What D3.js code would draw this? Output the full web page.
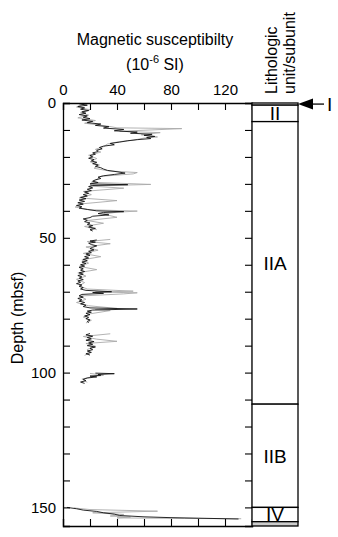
<!DOCTYPE html>
<html><head><meta charset="utf-8">
<script src="https://cdn.jsdelivr.net/npm/d3@7"></script>
<style>body{margin:0;background:#fff}svg{display:block}text{font-family:"Liberation Sans",Arial,sans-serif;fill:#000}</style>
</head><body>
<script>
// ---- data ----
const blackDepth = [0.3,0.8,1.3,1.8,2.3,2.8,3.3,3.8,4.3,4.8,5.3,5.8,6.3,6.8,7.3,7.8,8.3,8.8,9.3,9.8,10.3,10.8,11.2,11.6,12.0,12.4,12.8,13.2,13.6,14.0,14.5,15.0,15.5,16.0,16.5,17.0,17.5,18.0,18.5,19.0,19.5,20.0,20.5,21.0,21.5,22.0,22.5,23.0,23.5,24.0,24.5,25.0,25.5,26.0,26.5,27.0,27.5,28.0,28.5,29.0,29.5,30.0,30.3,30.6,31.0,31.5,32.0,32.5,33.0,33.5,34.0,34.5,35.0,35.5,36.0,36.5,37.0,37.5,38.0,38.5,39.0,39.5,40.0,40.3,40.6,41.0,41.5,42.0,42.5,43.0,43.5,44.0,44.5,45.0,45.5,46.0,46.5,47.0,47.5,null,50.8,51.2,51.6,52.0,52.5,53.0,53.5,54.0,54.5,55.0,55.5,56.0,56.5,57.0,57.5,58.0,58.5,59.0,59.5,60.0,60.5,61.0,61.5,62.0,62.5,63.0,63.5,64.0,64.5,65.0,65.5,66.0,66.5,67.0,67.5,68.0,68.5,69.0,69.5,70.0,70.3,70.6,71.0,71.5,72.0,72.5,73.0,73.5,74.0,74.5,75.0,75.5,76.0,76.4,76.8,77.2,77.6,78.0,78.5,79.0,79.5,80.0,80.5,81.0,81.5,null,85.5,86.0,86.5,87.0,87.5,88.0,88.5,89.0,89.5,90.0,90.5,91.0,91.5,92.0,92.5,93.0,93.5,null,100.2,100.4,100.7,101.0,101.3,101.6,102.0,102.5,103.0,103.5,104.0,null,150.0,150.5,151.0,151.5,152.0,152.5,153.0,153.5,153.8,154.0,154.2,154.3];
const blackValue = [12,18,11,16,13,19,14,17,12,18,15,20,14,22,18,28,24,34,30,45,38,55,50,66,60,68,62,65,55,48,42,35,38,30,27,29,25,26,22,24,20,22,19,23,21,25,22,26,24,28,30,33,40,46,38,30,26,28,24,22,26,20,48,22,19,22,18,21,16,19,15,18,13,17,12,16,11,15,10,14,12,18,25,45,30,26,34,22,20,15,18,16,20,18,22,19,24,20,22,null,25,20,24,19,21,25,22,20,23,19,21,17,20,16,19,15,18,14,17,13,16,12,15,13,16,12,15,11,14,12,15,11,13,10,14,12,15,13,17,36,22,30,14,12,15,11,14,12,16,13,17,15,20,55,22,18,21,17,20,16,19,17,20,18,19,null,20,17,22,18,21,17,23,19,22,18,24,20,22,18,21,17,20,null,24,38,26,28,20,25,18,15,17,13,16,null,3,10,15,25,30,38,42,60,80,100,120,130];
const grayDepth = [0.5,1.5,2.5,3.5,4.5,5.5,6.5,7.5,8.5,9.2,9.5,10.5,11.0,11.8,12.6,13.0,13.8,14.4,15.2,16.2,17.2,18.2,19.4,20.6,21.8,23.0,24.2,25.2,25.8,26.3,27.2,28.4,29.4,30.2,30.8,31.6,32.8,34.0,35.2,36.2,37.4,38.6,39.6,40.1,40.5,41.2,42.4,43.6,44.6,45.8,47.0,null,50.6,51.4,52.2,53.4,54.6,55.8,57.0,58.2,59.4,60.6,61.8,63.0,64.2,65.4,66.6,67.8,69.0,69.8,70.1,70.4,70.8,71.6,72.8,74.0,75.2,76.2,76.6,77.0,78.2,79.4,80.6,81.6,null,85.6,86.6,87.6,88.4,89.2,90.2,91.4,92.6,93.6,null,100.3,101.0,101.5,102.4,103.6,null,150.2,150.8,151.4,152.0,152.6,153.2,153.6,153.9,154.1,154.2];
const grayValue = [15,10,20,13,19,11,24,16,32,40,88,42,72,58,70,60,52,41,33,30,24,28,19,25,20,27,23,34,55,52,28,25,21,65,20,45,15,21,12,40,14,9,20,55,40,30,40,18,30,16,25,null,35,18,35,17,26,15,28,14,19,12,25,11,17,10,16,12,18,52,24,55,45,12,17,10,19,40,24,35,20,15,21,17,null,35,15,25,40,17,24,18,20,16,null,20,30,22,14,18,null,8,20,70,22,45,35,50,40,90,132];
const xTicks = [0,20,40,60,80,100,120,140];
const xTickLabels = [0,40,80,120];
const yTicks = [0,10,20,30,40,50,60,70,80,90,100,110,120,130,140,150];
const yTickLabels = [0,50,100,150];
const unitNames = ["I","II","IIA","IIB","IV",""];
const unitTop = [0,0.8,6.9,111.7,150.0,155.3];
const unitBottom = [0.8,6.9,111.7,150.0,155.3,156.9];

// ---- layout ----
const W = 338, H = 537;
const PL = 63, PR = 252, PT = 103, PB = 526;
const colL = 252, colR = 298;
const svg = d3.select("body").append("svg").attr("width", W).attr("height", H);
const x = d3.scaleLinear().domain([0,140]).range([PL,PR]);
const y = d3.scaleLinear().domain([0,156.9]).range([PT,PB]);

function pts(ds, vs){ return ds.map((d,i)=>[d, vs[i]]); }
const line = d3.line().defined(p=>p[0]!==null && p[1]!==null).x(p=>x(p[1])).y(p=>y(p[0]));

svg.append("path").attr("d", line(pts(grayDepth, grayValue)))
  .attr("fill","none").attr("stroke","#aaa").attr("stroke-width",0.9);
svg.append("path").attr("d", line(pts(blackDepth, blackValue)))
  .attr("fill","none").attr("stroke","#111").attr("stroke-width",0.9);

// axes
const fontSize = 15;
const gTop = svg.append("g").attr("transform",`translate(0,${PT})`)
  .call(d3.axisTop(x).tickValues(xTicks).tickSize(-7).tickPadding(8)
    .tickFormat(v=>xTickLabels.includes(v)?v:""));
const gBot = svg.append("g").attr("transform",`translate(0,${PB})`)
  .call(d3.axisBottom(x).tickValues(xTicks).tickSize(-7).tickFormat(""));
const gLeft = svg.append("g").attr("transform",`translate(${PL},0)`)
  .call(d3.axisLeft(y).tickValues(yTicks).tickSize(-7).tickPadding(7)
    .tickFormat(v=>yTickLabels.includes(v)?v:""));
const gRight = svg.append("g").attr("transform",`translate(${PR},0)`)
  .call(d3.axisRight(y).tickValues(yTicks).tickSize(-7).tickFormat(""));
[gTop,gBot,gLeft,gRight].forEach(g=>{
  g.selectAll(".domain").attr("stroke","#000").attr("stroke-width",1.3);
  g.selectAll(".tick line").attr("stroke","#000").attr("stroke-width",1.1);
  g.selectAll("text").attr("font-size",fontSize).attr("font-family","Liberation Sans, Arial, sans-serif");
});

// lithology column
const col = svg.append("g");
col.selectAll("rect.unit").data(unitNames).enter().append("rect")
  .attr("x", colL).attr("width", colR-colL)
  .attr("y",(d,i)=>y(unitTop[i])).attr("height",(d,i)=>y(unitBottom[i])-y(unitTop[i]))
  .attr("fill",(d,i)=> i===unitNames.length-1 ? "#ccc" : "#fff")
  .attr("stroke","#000").attr("stroke-width",1.3);
col.selectAll("text.unit").data(unitNames.slice(1,5)).enter().append("text")
  .attr("x",(colL+colR)/2)
  .attr("y",(d,i)=>(y(unitTop[i+1])+y(unitBottom[i+1]))/2)
  .attr("dy","0.36em").attr("text-anchor","middle").attr("font-size",19).text(d=>d);

// unit I arrow
const ay = y((unitTop[0]+unitBottom[0])/2);
svg.append("path").attr("d",`M${colR},${ay} L${colR+15},${ay-5.5} L${colR+15},${ay+5.5} Z`).attr("fill","#000");
svg.append("line").attr("x1",colR+15).attr("x2",colR+26).attr("y1",ay).attr("y2",ay).attr("stroke","#000").attr("stroke-width",1.3);
svg.append("text").attr("x",colR+29).attr("y",ay).attr("dy","0.36em").attr("font-size",19).text(unitNames[0]);

// titles
svg.append("text").attr("x",155).attr("y",45).attr("text-anchor","middle").attr("font-size",16)
  .text("Magnetic susceptibilty");
const u = svg.append("text").attr("x",155).attr("y",70).attr("text-anchor","middle").attr("font-size",16);
u.append("tspan").text("(10");
u.append("tspan").attr("font-size",11).attr("dy",-7).text("-6");
u.append("tspan").attr("dy",7).text(" SI)");
svg.append("text").attr("transform","translate(23,318) rotate(-90)").attr("text-anchor","middle")
  .attr("font-size",16).text("Depth (mbsf)");
svg.append("text").attr("transform","translate(277,94) rotate(-90)").attr("text-anchor","start")
  .attr("font-size",16).text("Lithologic");
svg.append("text").attr("transform","translate(295,94) rotate(-90)").attr("text-anchor","start")
  .attr("font-size",16).text("unit/subunit");
</script>
</body></html>
